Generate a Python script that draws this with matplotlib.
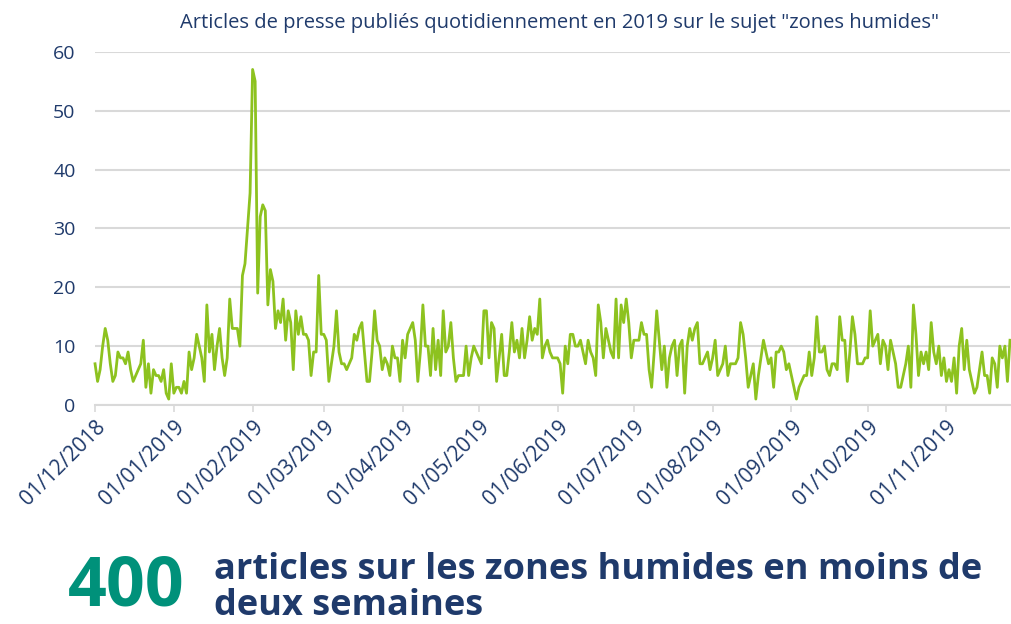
import pandas as pd
import matplotlib.pyplot as plt
import matplotlib.dates as mdates

# ── Données : articles par jour, du 01/12/2018 au 26/11/2019 ────────────────
DEBUT = "2018-12-01"

dec_2018 = [7, 4, 6, 10, 13, 11, 7, 4, 5, 9, 8, 8, 7, 9, 6, 4, 5, 6, 7, 11,
            3, 7, 2, 6, 5, 5, 4, 6, 2, 1, 7]
jan_2019 = [2, 3, 3, 2, 4, 2, 9, 6, 8, 12, 10, 8, 4, 17, 9, 12, 6, 10, 13, 8,
            5, 8, 18, 13, 13, 13, 10, 22, 24, 30, 36]
fev_2019 = [57, 55, 19, 32, 34, 33, 17, 23, 21, 13, 16, 14, 18, 11, 16, 14,
            6, 16, 12, 15, 12, 12, 11, 5, 9, 9, 22, 12]
mar_2019 = [12, 11, 4, 7, 10, 16, 9, 7, 7, 6, 7, 8, 12, 11, 13, 14, 9, 4, 4,
            9, 16, 11, 10, 6, 8, 7, 5, 10, 8, 8, 4]
avr_2019 = [11, 8, 12, 13, 14, 11, 4, 9, 17, 10, 10, 5, 13, 6, 11, 5, 16, 9,
            10, 14, 8, 4, 5, 5, 5, 10, 5, 8, 10, 9]
mai_2019 = [8, 7, 16, 16, 8, 14, 13, 4, 8, 12, 5, 5, 9, 14, 9, 11, 8, 13, 8,
            11, 15, 11, 13, 12, 18, 8, 10, 11, 9, 8, 8]
jun_2019 = [8, 7, 2, 10, 7, 12, 12, 10, 10, 11, 9, 7, 11, 9, 8, 5, 17, 14, 8,
            13, 11, 9, 8, 18, 8, 17, 14, 18, 14, 8]
jul_2019 = [11, 11, 11, 14, 12, 12, 6, 3, 9, 16, 11, 6, 10, 3, 8, 10, 11, 5,
            10, 11, 2, 10, 13, 11, 13, 14, 7, 7, 8, 9, 6]
aou_2019 = [8, 11, 5, 6, 7, 10, 5, 7, 7, 7, 8, 14, 12, 8, 3, 5, 7, 1, 5, 8,
            11, 9, 7, 8, 3, 9, 9, 10, 9, 6, 7]
sep_2019 = [5, 3, 1, 3, 4, 5, 5, 9, 5, 8, 15, 9, 9, 10, 6, 5, 7, 7, 6, 15,
            11, 11, 4, 9, 15, 12, 7, 7, 7, 8]
oct_2019 = [8, 16, 10, 11, 12, 7, 11, 10, 6, 11, 9, 7, 3, 3, 5, 7, 10, 3, 17,
            12, 5, 9, 7, 9, 6, 14, 9, 7, 10, 5, 8]
nov_2019 = [4, 6, 4, 8, 2, 10, 13, 6, 11, 6, 4, 2, 3, 6, 9, 5, 5, 2, 8, 7, 3,
            10, 8, 10, 4, 11]

valeurs = (dec_2018 + jan_2019 + fev_2019 + mar_2019 + avr_2019 + mai_2019
           + jun_2019 + jul_2019 + aou_2019 + sep_2019 + oct_2019 + nov_2019)
dates = pd.date_range(DEBUT, periods=len(valeurs), freq="D")

y_ticks = [0, 10, 20, 30, 40, 50, 60]
mois_ticks = pd.date_range(DEBUT, "2019-11-01", freq="MS")

TITRE = 'Articles de presse publiés quotidiennement en 2019 sur le sujet "zones humides"'
CHIFFRE = "400"
LEGENDE = "articles sur les zones humides en moins de\ndeux semaines"

# ── Style ────────────────────────────────────────────────────────────────────
plt.rcParams['font.family'] = ['Open Sans', 'DejaVu Sans']
NAVY = '#1f3a6b'
VERT = '#8dc21f'
TEAL = '#00917a'
GRIS = '#d9d9d9'

fig = plt.figure(figsize=(10.11, 6.24), dpi=100)
ax = fig.add_axes([0.094, 0.351, 0.905, 0.566])

ax.plot(dates, valeurs, color=VERT, linewidth=2.0, solid_joinstyle='round',
        zorder=3, clip_on=False)

ax.set_ylim(0, 60)
ax.set_yticks(y_ticks)
ax.set_xlim(dates[0], dates[-1])
ax.set_xticks(mois_ticks)
ax.xaxis.set_major_formatter(mdates.DateFormatter('%d/%m/%Y'))

ax.grid(True, axis='y', color=GRIS, linewidth=1.5, zorder=1)
ax.grid(False, axis='x')
for s in ['top', 'right', 'left']:
    ax.spines[s].set_visible(False)
ax.spines['bottom'].set_color(GRIS)
ax.spines['bottom'].set_linewidth(1.5)

ax.tick_params(axis='y', length=0, pad=14, labelsize=14, labelcolor=NAVY)
ax.tick_params(axis='x', length=5, width=1.2, color=GRIS, pad=3,
               labelsize=15, labelcolor=NAVY)
for lbl in ax.get_xticklabels():
    lbl.set_rotation(45)
    lbl.set_ha('right')
    lbl.set_rotation_mode('anchor')

fig.text(0.553, 0.963, TITRE, ha='center', va='center', fontsize=14.5, color=NAVY)

fig.text(0.067, 0.004, CHIFFRE, ha='left', va='bottom', fontsize=49,
         fontweight='bold', color=TEAL)
fig.text(0.212, 0.058, LEGENDE, ha='left', va='center', fontsize=26,
         fontweight='bold', color=NAVY, linespacing=1.0)

fig.savefig('out.png', dpi=100)
plt.close(fig)
